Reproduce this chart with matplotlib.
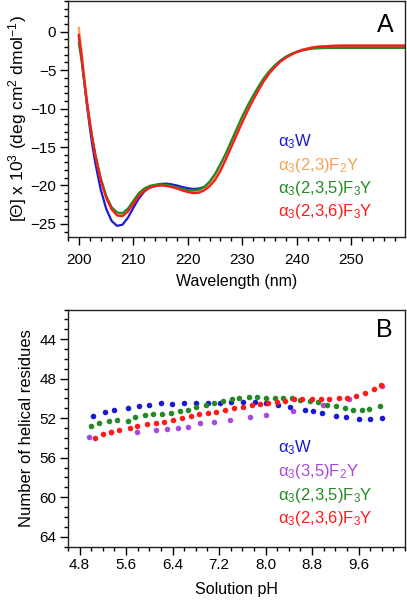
import matplotlib
matplotlib.use("Agg")
import matplotlib.pyplot as plt
from matplotlib.ticker import MultipleLocator

plt.rcParams["font.family"] = ["Liberation Sans", "DejaVu Sans"]
plt.rcParams["mathtext.fontset"] = "custom"
plt.rcParams["mathtext.rm"] = "Liberation Sans"
plt.rcParams["mathtext.it"] = "Liberation Sans:italic"

# ---- panel A: CD spectra ----
wavelength = [200, 200.5, 201, 201.5, 202, 202.5, 203, 204, 205, 206, 207, 208, 209, 210,
              211, 212, 213, 214, 215, 216, 217, 218, 219, 220, 221, 222, 223, 224, 225,
              226, 227, 228, 229, 230, 231, 232, 233, 234, 235, 236, 237, 238, 239, 240,
              241, 242, 243, 244, 246, 248, 250, 255, 260]

cd_w = [-0.6, -3.4, -6.6, -9.7, -12.4, -14.9, -17.0, -20.5, -23.0, -24.6, -25.25, -25.1, -24.2, -22.9,
        -21.7, -20.8, -20.25, -19.95, -19.8, -19.75, -19.85, -20.0, -20.2, -20.35, -20.45, -20.4, -20.2, -19.7, -18.9,
        -17.8, -16.4, -14.8, -13.2, -11.6, -10.1, -8.7, -7.4, -6.3, -5.3, -4.5, -3.8, -3.3, -2.9, -2.6,
        -2.35, -2.2, -2.1, -2.0, -1.95, -1.9, -1.9, -1.9, -1.9]

cd_23 = [0.5, -2.6, -5.9, -9.0, -11.6, -13.9, -15.9, -19.2, -21.5, -23.0, -23.8, -23.9, -23.3, -22.3,
         -21.3, -20.6, -20.2, -20.0, -19.95, -20.0, -20.15, -20.35, -20.55, -20.75, -20.85, -20.8, -20.5, -19.9, -19.0,
         -17.8, -16.4, -14.8, -13.2, -11.6, -10.1, -8.7, -7.4, -6.3, -5.3, -4.5, -3.8, -3.3, -2.9, -2.6,
         -2.35, -2.15, -2.0, -1.9, -1.85, -1.8, -1.8, -1.8, -1.8]

cd_235 = [-1.5, -3.8, -6.6, -9.4, -11.9, -14.0, -15.9, -19.0, -21.3, -22.8, -23.5, -23.6, -23.0, -22.0,
          -21.0, -20.4, -20.05, -19.9, -19.85, -19.9, -20.05, -20.25, -20.45, -20.6, -20.65, -20.55, -20.2, -19.5, -18.5,
          -17.2, -15.8, -14.2, -12.6, -11.0, -9.6, -8.3, -7.1, -6.0, -5.1, -4.35, -3.75, -3.25, -2.9, -2.65,
          -2.45, -2.3, -2.2, -2.15, -2.1, -2.1, -2.1, -2.1, -2.1]

cd_236 = [-0.4, -3.2, -6.3, -9.2, -11.7, -14.0, -16.0, -19.3, -21.6, -23.1, -23.9, -24.0, -23.4, -22.4,
          -21.4, -20.7, -20.3, -20.1, -20.0, -20.05, -20.2, -20.4, -20.65, -20.85, -21.0, -20.95, -20.65, -20.1, -19.3,
          -18.1, -16.6, -15.0, -13.4, -11.8, -10.3, -8.9, -7.6, -6.4, -5.4, -4.6, -3.9, -3.4, -3.0, -2.65,
          -2.4, -2.2, -2.05, -1.95, -1.85, -1.8, -1.8, -1.8, -1.8]

# ---- panel B: helical residues vs pH ----
ph_w = [5.03, 5.24, 5.40, 5.63, 5.82, 6.00, 6.20, 6.39, 6.59, 6.80, 7.01, 7.22, 7.41,
        7.61, 7.81, 8.01, 8.21, 8.42, 8.68, 8.82, 8.98, 9.22, 9.39, 9.61, 9.80, 10.00]
hel_w = [51.77, 51.34, 51.16, 50.96, 50.76, 50.63, 50.48, 50.59, 50.42, 50.48, 50.45, 50.48, 50.38,
         50.38, 50.35, 50.48, 50.66, 50.86, 51.16, 51.29, 51.50, 51.80, 51.84, 52.04, 52.07, 51.94]

ph_35 = [4.97, 5.34, 5.78, 6.11, 6.31, 6.50, 6.66, 6.87, 7.11, 7.38, 7.73, 8.00, 8.47, 8.99, 9.44, 10.00]
hel_35 = [53.87, 53.39, 53.39, 53.22, 53.12, 52.94, 52.86, 52.51, 52.41, 52.15, 51.87, 51.64, 51.23,
          50.63, 50.05, 48.73]

ph_235 = [5.00, 5.14, 5.30, 5.45, 5.63, 5.75, 5.92, 6.07, 6.21, 6.38, 6.53, 6.66, 6.81, 6.97,
          7.11, 7.27, 7.42, 7.54, 7.71, 7.86, 8.01, 8.16, 8.30, 8.45, 8.59, 8.76, 8.91, 9.06,
          9.21, 9.36, 9.51, 9.66, 9.78, 9.97]
hel_235 = [52.75, 52.48, 52.25, 52.18, 52.28, 51.90, 51.70, 51.60, 51.54, 51.44, 51.23, 51.12, 50.89, 50.69,
           50.48, 50.22, 50.02, 49.98, 49.85, 49.82, 49.95, 49.95, 49.95, 49.95, 50.17, 50.25, 50.38, 50.63,
           50.76, 50.96, 51.16, 51.13, 51.06, 50.79]

ph_236 = [5.06, 5.20, 5.34, 5.48, 5.66, 5.78, 5.96, 6.11, 6.25, 6.40, 6.56, 6.71, 6.86, 7.01,
          7.15, 7.31, 7.46, 7.61, 7.76, 7.90, 8.05, 8.20, 8.34, 8.49, 8.63, 8.80, 8.95, 9.10,
          9.26, 9.40, 9.55, 9.71, 9.86, 9.98]
hel_236 = [53.97, 53.63, 53.39, 53.19, 52.96, 52.78, 52.58, 52.48, 52.35, 52.18, 52.00, 51.80, 51.60, 51.44,
           51.37, 51.16, 50.99, 50.83, 50.69, 50.56, 50.42, 50.35, 50.25, 50.08, 50.02, 50.02, 50.02, 50.02,
           49.98, 49.95, 49.71, 49.47, 49.04, 48.60]

blue = "#1a1ad0"
orange = "#f6a255"
green = "#238a23"
red = "#ff1a1a"
purple = "#a84ad8"

fig = plt.figure(figsize=(4.07, 6.0), dpi=100)
axA = fig.add_axes([68/407, 1 - 237/600, 337/407, 236/600])
axB = fig.add_axes([68/407, 1 - 546.6/600, 337/407, 237/600])


def style_axis(ax, pad_x):
    for sp in ax.spines.values():
        sp.set_linewidth(1.0)
        sp.set_color("#222222")
    ax.tick_params(which="both", direction="out", top=False, right=False, labelsize=11)
    ax.tick_params(which="major", length=5.5, width=1.0)
    ax.tick_params(which="minor", length=3.2, width=1.0)
    ax.tick_params(axis="x", pad=pad_x)
    ax.tick_params(axis="y", pad=3)


# panel A
axA.plot(wavelength, cd_w, color=blue, lw=1.6)
axA.plot(wavelength, cd_23, color=orange, lw=1.6)
axA.plot(wavelength, cd_235, color=green, lw=1.6)
axA.plot(wavelength, cd_236, color=red, lw=1.6)
axA.set_xlim(198, 259.9)
axA.set_ylim(-26.7, 4.0)
axA.xaxis.set_major_locator(MultipleLocator(10))
axA.xaxis.set_minor_locator(MultipleLocator(2))
axA.yaxis.set_major_locator(MultipleLocator(5))
axA.yaxis.set_minor_locator(MultipleLocator(1))
style_axis(axA, 6)
axA.set_xlabel("Wavelength (nm)", fontsize=11.5, labelpad=5)
axA.set_ylabel(r"[$\Theta$] x 10$^3$ (deg cm$^2$ dmol$^{-1}$)", fontsize=12.5, labelpad=1)
axA.text(0.94, 0.9, "A", transform=axA.transAxes, fontsize=18, ha="center", va="center")

labA = [(r"$\mathrm{\alpha}_3$W", blue),
        (r"$\mathrm{\alpha}_3$(2,3)F$_2$Y", orange),
        (r"$\mathrm{\alpha}_3$(2,3,5)F$_3$Y", green),
        (r"$\mathrm{\alpha}_3$(2,3,6)F$_3$Y", red)]
for i, (t, c) in enumerate(labA):
    fig.text(278/407, 1 - (142 + 23.3*i)/600, t, color=c, fontsize=12, va="center", ha="left")

# panel B
axB.scatter(ph_w, hel_w, s=16, color=blue, linewidths=0)
axB.scatter(ph_35, hel_35, s=16, color=purple, linewidths=0)
axB.scatter(ph_235, hel_235, s=16, color=green, linewidths=0)
axB.scatter(ph_236, hel_236, s=16, color=red, linewidths=0)
axB.set_xlim(4.6, 10.4)
axB.set_ylim(65, 41)
axB.xaxis.set_minor_locator(MultipleLocator(0.2))
axB.yaxis.set_major_locator(MultipleLocator(4))
axB.yaxis.set_minor_locator(MultipleLocator(1))
axB.set_xticks([4.8, 5.6, 6.4, 7.2, 8.0, 8.8, 9.6])
axB.set_xticklabels(["4.8", "5.6", "6.4", "7.2", "8.0", "8.8", "9.6"])
style_axis(axB, 3)
axB.set_xlabel("Solution pH", fontsize=11.5, labelpad=7)
axB.set_ylabel("Number of helical residues", fontsize=12, labelpad=4)
axB.text(0.94, 0.915, "B", transform=axB.transAxes, fontsize=18, ha="center", va="center")

labB = [(r"$\mathrm{\alpha}_3$W", blue),
        (r"$\mathrm{\alpha}_3$(3,5)F$_2$Y", purple),
        (r"$\mathrm{\alpha}_3$(2,3,5)F$_3$Y", green),
        (r"$\mathrm{\alpha}_3$(2,3,6)F$_3$Y", red)]
for i, (t, c) in enumerate(labB):
    fig.text(278/407, 1 - (448 + 23.6*i)/600, t, color=c, fontsize=12, va="center", ha="left")

fig.savefig("out.png", dpi=100)
